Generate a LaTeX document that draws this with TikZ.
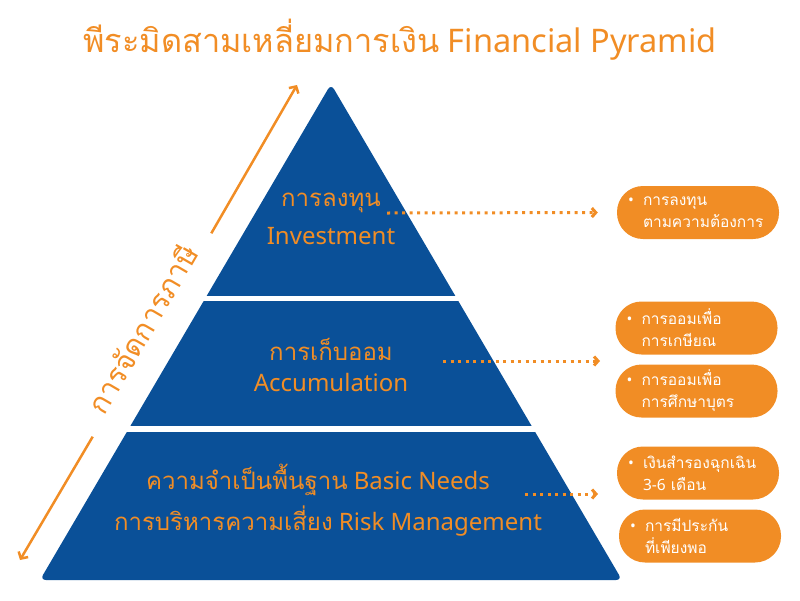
\documentclass[tikz,border=0pt]{standalone}
\usepackage{fontspec}
\setmainfont{Noto Sans}
\newfontfamily\thaifont[Script=Thai]{Loma}
\usetikzlibrary{arrows.meta}
\definecolor{pyrblue}{RGB}{10,80,152}
\definecolor{finorange}{RGB}{241,141,37}
\newcommand{\thai}[1]{{\thaifont #1}}
\newcommand{\bitem}[2]{\makebox[15pt][l]{\textbullet}#1\\\hspace*{15pt}#2}

\begin{document}
\begin{tikzpicture}[x=1pt,y=-1pt,
  lbl/.style={text=finorange,font=\fontsize{24}{28}\selectfont},
  itembox/.style={fill=finorange,text=white,rounded corners=26pt,minimum width=162pt,
    minimum height=53pt,text width=140pt,inner xsep=11pt,align=left,
    font=\fontsize{15.5}{22}\selectfont},
  dotarrow/.style={finorange,line width=3pt,dash pattern=on 3pt off 4.5pt,
    -{Straight Barb[length=4pt,width=9pt]}},
  taxarrow/.style={finorange,line width=2.5pt,-{Straight Barb[length=5pt,width=11pt]}}]
  \useasboundingbox (0,0) rectangle (800,600);

  \fill[pyrblue,rounded corners=6pt] (331,84) -- (622,580) -- (40,580) -- cycle;
  \fill[white] (0,296) rectangle (800,301);
  \fill[white] (0,426) rectangle (800,432);

  \node[text=finorange,font=\fontsize{32.5}{38}\selectfont] (title) at (400,40)
    {\thai{พีระมิดสามเหลี่ยมการเงิน} Financial Pyramid};

  \node[lbl] (inv1) at (331,203) {\thai{การลงทุน}};
  \node[lbl] (inv2) at (331,236) {Investment};
  \node[lbl] (acc1) at (331,349) {\thai{การเก็บออม}};
  \node[lbl] (acc2) at (331,382) {Accumulation};
  \node[lbl] (bas1) at (318,480) {\thai{ความจำเป็นพื้นฐาน} Basic Needs};
  \node[lbl] (bas2) at (328,521) {\thai{การบริหารความเสี่ยง} Risk Management};

  \node[rotate=59.75,anchor=base,minimum width=235pt,inner sep=0pt,text=finorange,
    font=\fontsize{29}{33}\selectfont] (tax) at (152,335) {\thai{การจัดการภาษี}};
  \coordinate (taxbot) at (20,560);
  \coordinate (taxtop) at (297,85);
  \draw[taxarrow] (tax.base west) -- (taxbot);
  \draw[taxarrow] (tax.base east) -- (taxtop);

  \node[itembox] (b1) at (698,212.5) {\bitem{\thai{การลงทุน}}{\thai{ตามความต้องการ}}};
  \node[itembox] (b2) at (696.5,328) {\bitem{\thai{การออมเพื่อ}}{\thai{การเกษียณ}}};
  \node[itembox] (b3) at (696.5,391) {\bitem{\thai{การออมเพื่อ}}{\thai{การศึกษาบุตร}}};
  \node[itembox] (b4) at (698,473) {\bitem{\thai{เงินสำรองฉุกเฉิน}}{3-6 \thai{เดือน}}};
  \node[itembox] (b5) at (700,536) {\bitem{\thai{การมีประกัน}}{\thai{ที่เพียงพอ}}};

  \coordinate (s1) at (387,213);
  \coordinate (s2) at (443,361);
  \coordinate (e2) at (600,361);
  \coordinate (s3) at (525,494);
  \coordinate (e3) at (598,494);
  \draw[dotarrow,shorten >=19pt] (s1) -- (b1.west);
  \draw[dotarrow] (s2) -- (e2);
  \draw[dotarrow] (s3) -- (e3);
\end{tikzpicture}
\end{document}
